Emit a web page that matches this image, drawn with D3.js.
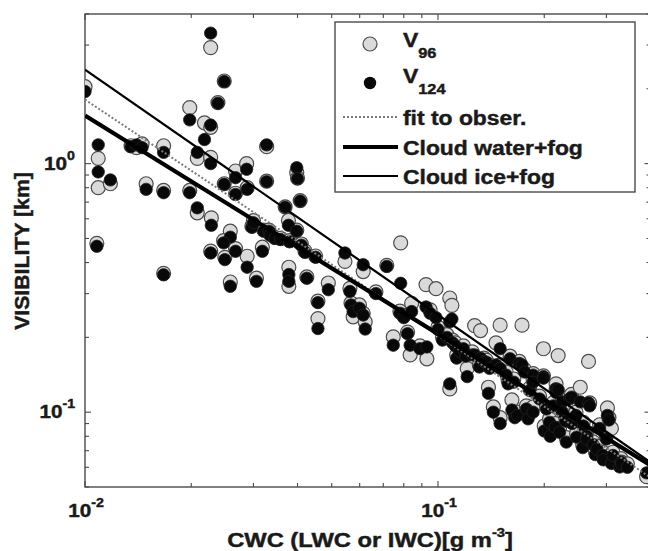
<!DOCTYPE html>
<html><head><meta charset="utf-8">
<script src="https://cdn.jsdelivr.net/npm/d3@7"></script>
<style>
body{margin:0;background:#fff}
text{font-family:"Liberation Sans",Arial,sans-serif;font-weight:bold;fill:#1a1a1a;stroke:#1a1a1a;stroke-width:0.45px}
</style>
</head><body>
<svg id="c" width="648" height="551"></svg>
<script>
// ---- data ----
const cwc = [0.0100,0.0108,0.0109,0.0109,0.0118,0.0135,0.0140,0.0145,0.0149,0.0167,0.0167,0.0167,0.0198,0.0198,0.0208,0.0208,0.0218,0.0227,0.0227,0.0227,0.0228,0.0227,0.0238,0.0248,0.0248,0.0258,0.0247,0.0249,0.0258,0.0267,0.0267,0.0267,0.0287,0.0288,0.0288,0.0297,0.0300,0.0306,0.0318,0.0321,0.0327,0.0327,0.0332,0.0335,0.0345,0.0358,0.0369,0.0377,0.0378,0.0378,0.0380,0.0398,0.0400,0.0407,0.0398,0.0410,0.0420,0.0425,0.0450,0.0457,0.0457,0.0489,0.0545,0.0563,0.0567,0.0575,0.0599,0.0614,0.0614,0.0622,0.0667,0.0716,0.0747,0.0784,0.0780,0.0800,0.0820,0.0834,0.0842,0.0889,0.0925,0.0930,0.0950,0.0987,0.100,0.103,0.106,0.108,0.108,0.1095,0.110,0.112,0.113,0.115,0.118,0.120,0.121,0.125,0.127,0.131,0.132,0.135,0.137,0.139,0.140,0.1435,0.146,0.150,0.150,0.150,0.156,0.158,0.160,0.162,0.164,0.165,0.168,0.170,0.173,0.176,0.178,0.180,0.182,0.186,0.186,0.186,0.194,0.199,0.199,0.200,0.203,0.207,0.208,0.212,0.215,0.216,0.216,0.219,0.221,0.225,0.225,0.230,0.231,0.236,0.239,0.240,0.246,0.247,0.253,0.257,0.258,0.264,0.264,0.267,0.269,0.275,0.279,0.282,0.287,0.293,0.294,0.300,0.302,0.305,0.310,0.313,0.327,0.330,0.331,0.344,0.390];
const v96 = [2.04,0.478,1.05,0.80,0.83,1.18,1.16,1.20,0.83,1.18,0.78,0.362,1.68,0.78,1.05,0.634,1.46,2.93,1.06,1.40,0.605,0.445,1.76,2.15,0.83,0.535,0.49,0.42,0.334,0.934,0.76,0.455,1.00,0.80,0.424,0.56,0.59,0.346,0.461,0.54,1.17,0.85,0.54,0.52,0.505,0.50,0.67,0.591,0.383,0.321,0.49,0.92,0.875,0.71,0.54,0.475,0.445,0.35,0.425,0.28,0.238,0.331,0.404,0.315,0.275,0.242,0.27,0.368,0.25,0.231,0.305,0.39,0.201,0.48,0.255,0.245,0.21,0.17,0.274,0.185,0.326,0.164,0.258,0.314,0.22,0.20,0.205,0.288,0.124,0.269,0.195,0.19,0.17,0.18,0.185,0.172,0.15,0.175,0.223,0.155,0.213,0.165,0.162,0.126,0.155,0.105,0.19,0.224,0.155,0.095,0.145,0.135,0.168,0.112,0.136,0.10,0.10,0.16,0.224,0.148,0.106,0.097,0.125,0.143,0.135,0.105,0.116,0.18,0.14,0.088,0.106,0.094,0.086,0.109,0.09,0.13,0.123,0.169,0.086,0.112,0.103,0.095,0.079,0.116,0.118,0.093,0.10,0.082,0.126,0.074,0.091,0.082,0.08,0.16,0.109,0.076,0.07,0.073,0.089,0.069,0.066,0.08,0.104,0.095,0.086,0.069,0.062,0.065,0.063,0.062,0.055];
const v124 = [1.95,0.465,1.19,0.926,0.86,1.17,1.19,1.16,0.788,1.11,0.764,0.357,1.50,0.764,1.11,0.664,1.25,3.35,1.00,1.43,0.565,0.437,1.75,2.14,0.826,0.506,0.48,0.411,0.321,0.878,0.752,0.444,0.949,0.788,0.383,0.555,0.578,0.336,0.444,0.535,1.19,0.846,0.535,0.515,0.50,0.495,0.668,0.565,0.358,0.336,0.485,0.963,0.87,0.707,0.535,0.47,0.44,0.346,0.42,0.276,0.217,0.311,0.437,0.306,0.27,0.254,0.262,0.392,0.246,0.216,0.30,0.386,0.186,0.33,0.25,0.24,0.207,0.186,0.254,0.18,0.265,0.183,0.25,0.24,0.215,0.195,0.20,0.231,0.13,0.237,0.19,0.185,0.165,0.176,0.18,0.168,0.139,0.17,0.17,0.152,0.165,0.16,0.159,0.119,0.15,0.10,0.155,0.18,0.15,0.09,0.141,0.13,0.164,0.102,0.132,0.095,0.097,0.157,0.155,0.145,0.103,0.094,0.122,0.141,0.132,0.10,0.113,0.139,0.137,0.084,0.103,0.091,0.08,0.106,0.087,0.124,0.12,0.123,0.083,0.11,0.10,0.092,0.0758,0.113,0.115,0.09,0.097,0.0794,0.11,0.072,0.088,0.08,0.078,0.109,0.106,0.074,0.0675,0.071,0.086,0.067,0.0643,0.078,0.097,0.093,0.0622,0.067,0.0602,0.063,0.062,0.06,0.057];

// fitted power-law lines, given at the two ends of the x range
const lineCWC = [0.01, 0.4];
const fitObs = [1.81, 0.0546];
const cloudWater = [1.56, 0.0611];
const cloudIce = [2.39, 0.0628];

const xTicks = [{v:0.01, e:"-2"}, {v:0.1, e:"-1"}];
const yTicks = [{v:1, e:"0"}, {v:0.1, e:"-1"}];
const legendNames = ["V", "V", "fit to obser.", "Cloud water+fog", "Cloud ice+fog"];
const legendSubs = ["96", "124", "", "", ""];
const xTitle = ["CWC (LWC or IWC)[g m", "-3", "]"];
const yTitle = "VISIBILITY [km]";

// ---- drawing ----
const svg = d3.select("#c");
const P = {l:85, t:14, r:650.5, b:487};
const x = d3.scaleLog().domain([0.01, 0.4]).range([P.l, P.r]);
const y = d3.scaleLog().domain([0.05, 4]).range([P.b, P.t]);
const SX = 1.09; // horizontal stretch of the reference's lettering
const axisCol = "#4a4a4a";

svg.append("clipPath").attr("id","clip").append("rect")
  .attr("x",P.l).attr("y",P.t).attr("width",P.r-P.l).attr("height",P.b-P.t);

function logTicks(lo, hi){
  const out=[];
  for(let k=-3;k<=1;k++) for(let m=1;m<=9;m++){
    const v=m*Math.pow(10,k);
    if(v>=lo*0.9999 && v<=hi*1.0001) out.push({v, major:m===1});
  }
  return out;
}
const gAx = svg.append("g");
logTicks(0.01,0.4).forEach(t=>{
  const L = t.major?6:4, px=x(t.v);
  gAx.append("line").attr("x1",px).attr("x2",px).attr("y1",P.b).attr("y2",P.b-L).attr("stroke",axisCol).attr("stroke-width",1.1);
  gAx.append("line").attr("x1",px).attr("x2",px).attr("y1",P.t).attr("y2",P.t+L).attr("stroke",axisCol).attr("stroke-width",1.1);
});
logTicks(0.05,4).forEach(t=>{
  const L = t.major?6:4, py=y(t.v);
  gAx.append("line").attr("y1",py).attr("y2",py).attr("x1",P.l).attr("x2",P.l+L).attr("stroke",axisCol).attr("stroke-width",1.1);
  gAx.append("line").attr("y1",py).attr("y2",py).attr("x1",P.r).attr("x2",P.r-L).attr("stroke",axisCol).attr("stroke-width",1.1);
});
gAx.append("rect").attr("x",P.l).attr("y",P.t).attr("width",P.r-P.l).attr("height",P.b-P.t)
  .attr("fill","none").attr("stroke",axisCol).attr("stroke-width",1.4);

function label(parent, tx, ty, anchor, parts, rot, sx){
  const g = parent.append("g").attr("transform",`translate(${tx},${ty})`+(rot?` rotate(${rot})`:"")+` scale(${sx||SX},1)`);
  const t = g.append("text").attr("text-anchor",anchor);
  parts.forEach(p=>{
    const s = t.append("tspan").text(p.t).attr("font-size",p.size);
    if(p.dy) s.attr("dy",p.dy);
  });
  return t;
}
xTicks.forEach(d=>{
  label(svg, x(d.v)+1, 517, "middle", [{t:"10",size:19},{t:d.e,size:13,dy:-10}]);
});
yTicks.forEach(d=>{
  label(svg, 75, y(d.v)+6, "end", [{t:"10",size:19},{t:d.e,size:13,dy:-10}]);
});
label(svg, 370, 547, "middle", [{t:xTitle[0],size:21},{t:xTitle[1],size:13,dy:-10},{t:xTitle[2],size:21,dy:10}], 0, 1.13);
label(svg, 29, 251, "middle", [{t:yTitle,size:19.5}], -90);

// scatter
const pts = cwc.map((c,i)=>({c, a:v96[i], b:v124[i]}));
const gP = svg.append("g").attr("clip-path","url(#clip)");
gP.selectAll("circle.g96").data(pts).join("circle").attr("class","g96")
  .attr("cx",d=>x(d.c)).attr("cy",d=>y(d.a)).attr("r",7)
  .attr("fill","#dadada").attr("stroke","#4d4d4d").attr("stroke-width",1.2);
gP.selectAll("circle.g124").data(pts).join("circle").attr("class","g124")
  .attr("cx",d=>x(d.c)).attr("cy",d=>y(d.b)).attr("r",6.2)
  .attr("fill","#080808").attr("stroke","#222").attr("stroke-width",0.8);

// lines
const lineGen = d3.line().x(d=>x(d[0])).y(d=>y(d[1]));
const series = [
  {vals:fitObs, stroke:"#7a7a7a", w:2, dash:"2,2"},
  {vals:cloudWater, stroke:"#000", w:4.2, dash:null},
  {vals:cloudIce, stroke:"#000", w:2.2, dash:null}
];
series.forEach(s=>{
  gP.append("path").datum(lineCWC.map((c,i)=>[c,s.vals[i]]))
    .attr("d",lineGen).attr("fill","none").attr("stroke",s.stroke)
    .attr("stroke-width",s.w).attr("stroke-dasharray",s.dash);
});

// legend
const gL = svg.append("g");
gL.append("rect").attr("x",335).attr("y",22).attr("width",300).attr("height",170)
  .attr("fill","#fff").attr("stroke",axisCol).attr("stroke-width",1.4);
gL.append("circle").attr("cx",370).attr("cy",44).attr("r",7)
  .attr("fill","#dadada").attr("stroke","#4d4d4d").attr("stroke-width",1.2);
gL.append("circle").attr("cx",370).attr("cy",83).attr("r",6.2).attr("fill","#080808");
const legY = [47, 83, 125, 155, 184];
const lineSamples = [null, null, series[0], series[1], series[2]];
const lineYs = [0,0,117,147,176];
legendNames.forEach((n,i)=>{
  if(legendSubs[i]){
    label(gL, 403, legY[i], "start", [{t:n,size:21},{t:legendSubs[i],size:15,dy:11}]);
  } else {
    label(gL, 403, legY[i], "start", [{t:n,size:21}]);
    const s=lineSamples[i];
    gL.append("line").attr("x1",343).attr("x2",398).attr("y1",lineYs[i]).attr("y2",lineYs[i])
      .attr("stroke",s.stroke).attr("stroke-width",s.w).attr("stroke-dasharray",s.dash);
  }
});
</script>
</body></html>
